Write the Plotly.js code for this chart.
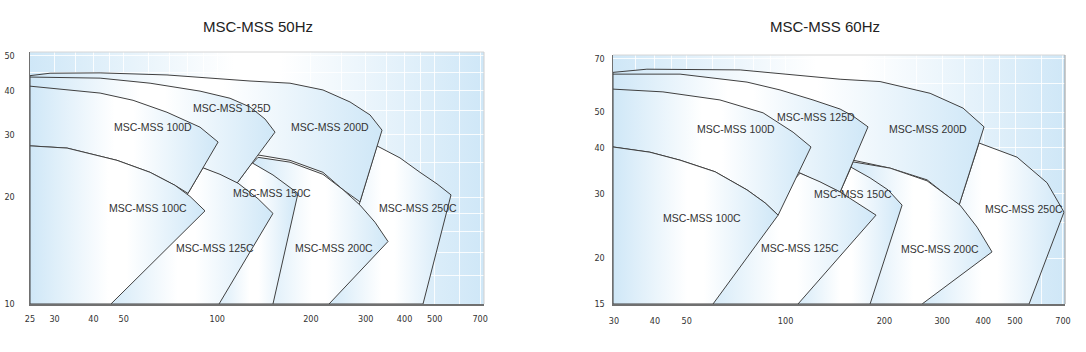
<!DOCTYPE html>
<html><head><meta charset="utf-8">
<script src="https://cdn.plot.ly/plotly-3.0.1.min.js"></script>
<style>html,body{margin:0;padding:0;background:#fff;}#chart{width:1086px;height:352px;}</style>
</head><body><div id="chart"></div>
<script>
// ---------------- data ----------------
const titles = ['MSC-MSS 50Hz', 'MSC-MSS 60Hz'];
const models = ['250C', '200D', '200C', '150C', '125D', '125C', '100D', '100C']; // back to front
const xTicks50 = [25, 30, 40, 50, 100, 200, 300, 400, 500, 700];
const yTicks50 = [10, 20, 30, 40, 50];
const xTicks60 = [30, 40, 50, 100, 200, 300, 400, 500, 700];
const yTicks60 = [15, 20, 30, 40, 50, 70];
const xRange50 = [25, 720];
const yRange50 = [10, 51.3];
const xRange60 = [29.8, 710];
const yRange60 = [15, 71.6];
const xGrid50 = [30, 35, 40, 45, 50, 60, 70, 80, 90, 100, 150, 200, 250, 300, 350, 400, 450, 500, 600, 700];
const yGrid50 = [12, 14, 16, 18, 20, 25, 30, 35, 40, 45, 50];
const xGrid60 = [35, 40, 45, 50, 60, 70, 80, 90, 100, 150, 200, 250, 300, 350, 400, 450, 500, 600, 700];
const yGrid60 = [20, 25, 30, 35, 40, 45, 50, 60, 70];

// 50 Hz envelopes: flow Q (m3/h), head H (m)
const q50_250C = [326.0, 386.7, 448.3, 508.5, 564.0, 458.5, 221.9, 287.5, 326.0];
const h50_250C = [27.9, 25.8, 23.5, 21.8, 20.3, 10, 10, 19.4, 27.9];
const q50_200D = [25, 29.0, 42.0, 68.9, 127.4, 171.3, 218.6, 267.0, 309.8, 338.5, 287.5, 253.5, 218.6, 171.3, 135.2, 102.0, 25, 25];
const h50_200D = [44.0, 44.7, 44.8, 44.2, 42.5, 41.9, 40.1, 37.1, 34.1, 30.9, 19.4, 21.0, 23.5, 25.4, 26.3, 29.0, 35.2, 44.0];
const q50_200C = [135.2, 171.3, 218.6, 253.5, 287.5, 321.3, 353.8, 228.6, 139.2, 127.4, 135.2];
const h50_200C = [25.9, 25.1, 23.2, 21.0, 19.0, 17.0, 15.0, 10, 10, 24.5, 25.9];
const q50_150C = [129.3, 151.0, 181.7, 151.0, 94.8, 105.9, 115.7, 129.3];
const h50_150C = [25.0, 23.1, 20.5, 10, 10, 15.1, 21.9, 25.0];
const q50_125D = [25, 42.0, 60.8, 88.0, 109.9, 127.4, 142.4, 153.3, 115.7, 89.9, 60.8, 25, 25];
const h50_125D = [43.6, 43.3, 41.9, 39.8, 38.0, 35.9, 33.2, 30.5, 21.9, 24.2, 27.1, 30.9, 43.6];
const q50_125C = [89.9, 102.0, 116.6, 135.2, 151.0, 101.3, 42.0, 80.5, 89.9];
const h50_125C = [24.2, 23.2, 21.9, 19.8, 18.0, 10, 10, 20.5, 24.2];
const q50_100D = [25, 32.9, 42.0, 53.6, 68.9, 88.0, 100.6, 80.5, 73.1, 60.8, 47.6, 32.9, 25, 25];
const h50_100D = [41.1, 40.1, 39.3, 37.5, 34.7, 31.5, 28.6, 20.5, 21.6, 23.5, 25.4, 27.5, 27.9, 41.1];
const q50_100C = [25, 32.9, 47.6, 60.8, 73.1, 81.7, 91.3, 45.5, 25, 25];
const h50_100C = [27.9, 27.5, 25.4, 23.5, 21.6, 20.1, 18.3, 10, 10, 27.9];

// 60 Hz envelopes
const q60_250C = [388.6, 507.2, 626.1, 705, 551.9, 248.0, 377.9, 337.7, 388.6];
const h60_250C = [41.2, 37.7, 32.1, 26.7, 15, 15, 22.4, 27.9, 41.2];
const q60_200D = [29.8, 37.8, 72.7, 146.6, 194.0, 275.6, 347.3, 402.4, 337.7, 269.8, 208.1, 160.5, 136.6, 29.8, 29.8];
const h60_200D = [64.2, 65.5, 65.2, 61.5, 60.6, 56.3, 51.3, 45.6, 27.9, 32.7, 35.2, 37.0, 39.4, 50.7, 64.2];
const q60_200C = [160.5, 208.1, 269.8, 340.0, 383.2, 425.5, 260.5, 168.5, 156.1, 160.5];
const h60_200C = [36.6, 35.2, 32.5, 27.9, 24.3, 20.8, 15, 15, 34.4, 36.6];
const q60_150C = [158.3, 180.9, 205.2, 226.4, 180.9, 103.2, 136.6, 146.6, 158.3];
const h60_150C = [35.4, 33.1, 30.7, 27.9, 15, 15, 21.1, 30.3, 35.4];
const q60_125D = [29.8, 47.7, 76.3, 96.2, 121.2, 146.6, 160.5, 178.3, 146.6, 110.7, 83.6, 29.8, 29.8];
const h60_125D = [63.5, 63.5, 60.4, 57.5, 54.0, 51.0, 48.8, 45.6, 30.3, 34.1, 39.4, 47.6, 63.5];
const q60_125C = [110.7, 127.3, 146.6, 160.5, 188.6, 109.1, 54.9, 89.7, 99.6, 110.7];
const h60_125C = [34.1, 32.3, 30.3, 28.8, 26.2, 15, 15, 26.2, 30.7, 34.1];
const q60_100D = [29.8, 42.3, 63.1, 85.4, 105.4, 119.5, 94.9, 86.6, 76.3, 61.0, 47.7, 38.6, 29.8, 29.8];
const h60_100D = [57.8, 56.8, 54.0, 49.8, 44.1, 40.2, 26.2, 28.3, 30.7, 34.4, 37.0, 38.9, 40.2, 57.8];
const q60_100C = [29.8, 38.6, 47.7, 61.0, 76.3, 86.6, 94.9, 60.1, 29.8, 29.8];
const h60_100C = [40.2, 38.9, 37.0, 34.4, 30.7, 28.3, 26.2, 15, 15, 40.2];

// label anchors (Q, H) for each model, same order as models
const labQ50 = [441.7, 230.3, 237.2, 149.9, 111.5, 98.3, 62.1, 59.9];
const labH50 = [18.6, 31.5, 14.4, 20.5, 35.6, 14.4, 31.5, 18.6];
const labQ60 = [532.8, 271.7, 295.5, 160.5, 123.8, 110.7, 70.7, 55.6];
const labH60 = [27.2, 45.0, 21.2, 29.9, 48.5, 21.3, 45.0, 25.7];

// ---------------- build ----------------
const env50 = {
  '250C': [q50_250C, h50_250C], '200D': [q50_200D, h50_200D], '200C': [q50_200C, h50_200C],
  '150C': [q50_150C, h50_150C], '125D': [q50_125D, h50_125D], '125C': [q50_125C, h50_125C],
  '100D': [q50_100D, h50_100D], '100C': [q50_100C, h50_100C]
};
const env60 = {
  '250C': [q60_250C, h60_250C], '200D': [q60_200D, h60_200D], '200C': [q60_200C, h60_200C],
  '150C': [q60_150C, h60_150C], '125D': [q60_125D, h60_125D], '125C': [q60_125C, h60_125C],
  '100D': [q60_100D, h60_100D], '100C': [q60_100C, h60_100C]
};

const BLUE = '#cfe7f7';
const grad = [[0, BLUE], [0.45, '#ffffff'], [0.55, '#ffffff'], [1, BLUE]];
const traces = [];
function addEnvelopes(env, xa, ya) {
  models.forEach(m => {
    traces.push({
      type: 'scatter', mode: 'lines', x: env[m][0], y: env[m][1],
      xaxis: xa, yaxis: ya, fill: 'toself',
      fillgradient: {type: 'horizontal', colorscale: grad},
      line: {color: '#404040', width: 1}, hoverinfo: 'skip', showlegend: false
    });
  });
}
addEnvelopes(env50, 'x', 'y');
addEnvelopes(env60, 'x2', 'y2');

const tickFont = {family: 'Liberation Sans Narrow, DejaVu Sans Condensed, Arial Narrow, sans-serif', size: 9, color: '#333'};
const labelFont = {family: 'Liberation Sans, Arial, sans-serif', size: 10.5, color: '#333'};
const W = 1086, H = 352;

function axis(range, ticks, grid, domain, anchor, standoff) {
  return {
    type: 'log', range: range.map(Math.log10), domain: domain, anchor: anchor,
    tickmode: 'array', tickvals: ticks, ticktext: ticks.map(String),
    ticks: '', tickfont: tickFont, ticklabelstandoff: standoff,
    showgrid: false, zeroline: false,
    minor: {tickmode: 'array', tickvals: grid, showgrid: true, gridcolor: 'rgba(255,255,255,0.85)', gridwidth: 1, ticks: ''},
    showline: true, linecolor: '#707070', linewidth: 1.5, fixedrange: true
  };
}

const svgBg = '<svg xmlns="http://www.w3.org/2000/svg" width="100" height="100" preserveAspectRatio="none">' +
  '<defs><linearGradient id="g" x1="0" y1="0" x2="1" y2="0">' +
  '<stop offset="0" stop-color="' + BLUE + '"/><stop offset="0.45" stop-color="#ffffff"/>' +
  '<stop offset="0.55" stop-color="#ffffff"/><stop offset="1" stop-color="' + BLUE + '"/>' +
  '</linearGradient></defs><rect width="100" height="100" fill="url(#g)"/></svg>';
const bgSrc = 'data:image/svg+xml;charset=utf-8,' + encodeURIComponent(svgBg);

const titleFont = {family: 'Liberation Sans, Arial, sans-serif', size: 15, color: '#222'};
const annotations = [
  {text: titles[0], xref: 'paper', yref: 'paper', x: 258 / W, y: 1 - 27 / H, xanchor: 'center', yanchor: 'middle',
   showarrow: false, font: titleFont},
  {text: titles[1], xref: 'paper', yref: 'paper', x: 825 / W, y: 1 - 27 / H, xanchor: 'center', yanchor: 'middle',
   showarrow: false, font: titleFont}
];
models.forEach((m, i) => {
  annotations.push({text: 'MSC-MSS ' + m, xref: 'x', yref: 'y', x: Math.log10(labQ50[i]), y: Math.log10(labH50[i]),
    xanchor: 'center', yanchor: 'middle', showarrow: false, font: labelFont});
  annotations.push({text: 'MSC-MSS ' + m, xref: 'x2', yref: 'y2', x: Math.log10(labQ60[i]), y: Math.log10(labH60[i]),
    xanchor: 'center', yanchor: 'middle', showarrow: false, font: labelFont});
});

const border = (xr, yr, col) => ([
  {type: 'line', xref: xr + ' domain', yref: yr + ' domain', x0: 0, x1: 1, y0: 1, y1: 1, line: {color: '#d6d6d6', width: 1}, layer: 'above'},
  {type: 'line', xref: xr + ' domain', yref: yr + ' domain', x0: 1, x1: 1, y0: 0, y1: 1, line: {color: col, width: 1}, layer: 'above'}
]);

const layout = {
  width: W, height: H, margin: {l: 0, r: 0, t: 0, b: 0},
  paper_bgcolor: '#ffffff', plot_bgcolor: 'rgba(0,0,0,0)', showlegend: false,
  xaxis: axis(xRange50, xTicks50, xGrid50, [30 / W, 484 / W], 'y', 6),
  yaxis: axis(yRange50, yTicks50, yGrid50, [1 - 304 / H, 1 - 52 / H], 'x', 12),
  xaxis2: axis(xRange60, xTicks60, xGrid60, [613 / W, 1065 / W], 'y2', 8),
  yaxis2: axis(yRange60, yTicks60, yGrid60, [1 - 304 / H, 1 - 55 / H], 'x2', 5),
  images: [
    {source: bgSrc, xref: 'x domain', yref: 'y domain', x: 0, y: 1, sizex: 1, sizey: 1, sizing: 'stretch', layer: 'below', xanchor: 'left', yanchor: 'top'},
    {source: bgSrc, xref: 'x2 domain', yref: 'y2 domain', x: 0, y: 1, sizex: 1, sizey: 1, sizing: 'stretch', layer: 'below', xanchor: 'left', yanchor: 'top'}
  ],
  shapes: border('x', 'y', '#d0d0d0').concat(border('x2', 'y2', '#999999')),
  annotations: annotations
};

Plotly.newPlot('chart', traces, layout, {staticPlot: true, displayModeBar: false});
</script></body></html>
